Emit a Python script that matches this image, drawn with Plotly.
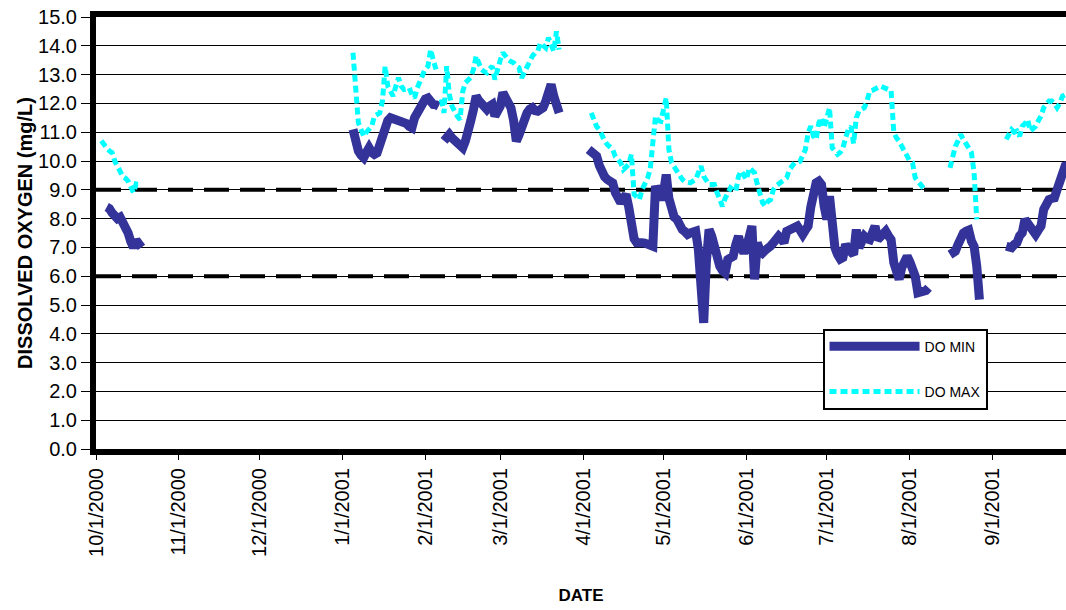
import pandas as pd
import plotly.graph_objects as go

# ---------------- data (daily dissolved-oxygen readings, mg/L) ----------------
# DO MIN segments: (first date, daily values)
MIN_OCT_2000_START = "2000-10-05"
MIN_OCT_2000 = [8.4, 8.35, 8.2, 8.1, 8.0, 8.05, 7.9, 7.7, 7.5, 7.2, 7.0, 7.25, 7.05, 7.0]

MIN_JAN_2001_START = "2001-01-05"
MIN_JAN_2001 = [11.1, 10.6, 10.35, 10.2, 10.11, 10.3, 10.46, 10.3, 10.23, 10.28,
                10.6, 11.0, 11.2, 11.4, 11.5, 11.48, 11.45, 11.44, 11.4, 11.38,
                11.3, 11.2, 11.15, 11.5, 11.7, 11.9, 12.0,
                12.15, 12.19, 12.0, 11.96, 11.95, 11.9]

MIN_FEB_2001_START = "2001-02-08"
MIN_FEB_2001 = [10.7, 10.8, 10.92, 10.8, 10.7, 10.6, 10.5, 10.46, 10.7, 10.98,
                11.4, 11.79, 12.25, 12.1, 12.02, 11.9, 11.79, 11.9, 11.96, 11.56, 11.75,
                11.9, 12.37, 12.2, 12.02, 11.85, 11.4, 10.69, 10.9, 11.21, 11.5,
                11.67, 11.8, 11.85, 11.75, 11.73, 11.79, 11.85, 12.08, 12.4, 12.66,
                12.25, 12.02, 11.67]

MIN_APR_2001_START = "2001-04-03"
MIN_APR_2001 = [10.4, 10.35, 10.25, 10.17, 9.85, 9.59, 9.45, 9.36, 9.3, 9.24,
                8.9, 8.7, 8.55, 8.7, 8.84, 8.4, 7.6, 7.3, 7.16, 7.2,
                7.16, 7.15, 7.1, 7.05, 7.04, 9.13, 8.8, 8.66,
                # May
                8.9, 9.53, 8.7, 8.2, 8.05, 7.97, 7.75, 7.62, 7.55, 7.45,
                7.5, 7.55, 7.56, 6.93, 5.89, 4.38, 6.5, 7.62, 7.39, 6.93,
                6.6, 6.35, 6.2, 6.12, 6.58, 6.6, 6.69, 7.1, 7.39, 7.0, 6.81,
                # June
                7.0, 7.5, 7.74, 5.89, 7.16, 6.9, 6.81, 6.9, 6.95, 7.05,
                7.16, 7.3, 7.39, 7.3, 7.16, 7.56, 7.6, 7.7, 7.74, 7.74,
                7.6, 7.45, 7.6, 7.74, 8.4, 8.9, 9.24, 9.3, 9.18, 8.43,
                # July
                7.97, 8.78, 7.6, 7.0, 6.75, 6.6, 6.65, 7.1, 6.95, 6.8,
                6.75, 7.62, 6.99, 7.2, 7.39, 7.3, 7.27, 7.5, 7.74, 7.27,
                7.4, 7.5, 7.56, 7.4, 7.27, 6.47, 6.1, 5.89, 6.3, 6.47, 6.69,
                # August
                6.5, 6.23, 6.0, 5.42, 5.45, 5.42, 5.5, 5.6]

MIN_AUG_2001_START = "2001-08-16"
MIN_AUG_2001 = [6.75, 6.8, 6.87, 7.1, 7.39, 7.5, 7.56, 7.6, 7.22, 7.04, 6.35, 5.19]

MIN_SEP_2001_START = "2001-09-06"
MIN_SEP_2001 = [7.04, 7.0, 6.99, 7.1, 7.16, 7.4, 7.51, 7.97, 7.8, 7.68,
                7.5, 7.45, 7.6, 7.74, 8.32, 8.55, 8.66, 8.7, 8.72, 9.01,
                9.3, 9.7, 9.82, 9.85, 9.9]

# DO MAX segments
MAX_OCT_2000_START = "2000-10-03"
MAX_OCT_2000 = [10.7, 10.55, 10.45, 10.35, 10.29, 10.0, 9.8, 9.6, 9.46, 9.4,
                9.3, 9.1, 8.9, 9.2, 9.18]

MAX_JAN_2001_START = "2001-01-05"
MAX_JAN_2001 = [13.76, 12.2, 11.33, 11.1, 10.86, 11.0, 11.1, 11.21, 11.56, 11.6,
                11.67, 12.08, 13.29, 12.6, 12.4, 12.25, 12.6, 12.89, 12.6, 12.48,
                12.5, 12.54, 12.3, 12.19, 12.54, 12.8, 13.0,
                13.2, 13.29, 13.87, 13.5, 13.18]

MAX_FEB_2001_START = "2001-02-07"
MAX_FEB_2001 = [12.14, 11.67, 13.29, 12.3, 11.9, 11.67, 11.55, 11.44, 12.42, 12.72,
                12.8, 12.9, 13.18, 13.64, 13.4, 13.18, 13.1, 13.06, 13.2, 13.29,
                12.83, 13.24,
                13.5, 13.76, 13.6, 13.52, 13.45, 13.41, 13.3, 13.24, 12.89, 13.1,
                13.29, 13.5, 13.64, 13.75, 13.81, 14.1, 14.0, 13.93, 14.28, 14.0,
                13.81, 14.5, 13.87]

MAX_APR_2001_START = "2001-04-04"
MAX_APR_2001 = [11.67, 11.4, 11.2, 11.09, 10.86, 10.7, 10.57, 10.45, 10.4, 10.15,
                10.05, 9.94, 9.7, 9.8, 9.88, 10.23, 8.84, 8.75, 8.66, 9.01,
                9.2, 9.4, 9.7, 10.63, 11.56, 11.4, 11.38,
                # May
                11.79, 12.19, 10.4, 9.94, 9.8, 9.65, 9.45, 9.36, 9.28, 9.24,
                9.24, 9.3, 9.36, 9.59, 9.82, 9.47, 9.3, 9.18, 9.18, 9.18,
                8.9, 8.6, 8.43, 8.7, 8.9, 9.07, 9.0, 8.95, 9.47, 9.65, 9.5,
                # June
                9.36, 9.76, 9.7, 9.59, 9.2, 8.9, 8.55, 8.43, 8.6, 8.66,
                9.0, 9.13, 9.2, 9.24, 9.35, 9.42, 9.7, 9.85, 9.94, 9.95,
                9.99, 10.2, 10.4, 10.98, 11.21, 10.86, 10.75, 11.33, 11.5, 11.15,
                # July
                11.5, 11.85, 10.46, 10.35, 10.23, 10.3, 10.46, 10.8, 11.09, 11.2,
                10.6, 11.5, 11.73, 11.8, 11.85, 12.08, 12.42, 12.45, 12.48, 12.55,
                12.6, 12.55, 12.54, 12.48, 12.45, 11.0, 10.8, 10.69, 10.51, 10.3, 10.17,
                # August
                10.0, 9.94, 9.42, 9.3, 9.18, 9.05, 8.95]

MAX_AUG_2001_START = "2001-08-16"
MAX_AUG_2001 = [9.76, 10.17, 10.51, 10.7, 10.92, 10.75, 10.63, 10.45, 10.3, 9.59, 7.97]

MAX_SEP_2001_START = "2001-09-06"
MAX_SEP_2001 = [10.75, 10.9, 11.09, 11.0, 11.04, 10.86, 11.21, 11.3, 11.44, 11.04,
                11.1, 11.21, 11.4, 11.56, 11.85, 12.0, 12.08, 12.08, 12.0, 11.85,
                12.0, 12.25, 12.3, 12.3, 12.4]

# Criteria reference levels (mg/L)
CRITERIA_LEVELS = [9.0, 6.0]

SERIES_NAMES = ["DO MIN", "DO MAX"]
TICK_DATES = ["2000-10-01", "2000-11-01", "2000-12-01", "2001-01-01", "2001-02-01",
              "2001-03-01", "2001-04-01", "2001-05-01", "2001-06-01", "2001-07-01",
              "2001-08-01", "2001-09-01"]
TICK_LABELS = ["10/1/2000", "11/1/2000", "12/1/2000", "1/1/2001", "2/1/2001",
               "3/1/2001", "4/1/2001", "5/1/2001", "6/1/2001", "7/1/2001",
               "8/1/2001", "9/1/2001"]
X_START = "2000-10-01"
X_END = "2001-09-28 08:00"


def build(segments):
    xs, ys = [], []
    for start, vals in segments:
        dates = pd.date_range(start, periods=len(vals), freq="D")
        xs += list(dates)
        ys += list(vals)
        xs.append(dates[-1] + pd.Timedelta(hours=12))
        ys.append(None)
    return xs, ys


min_x, min_y = build([(MIN_OCT_2000_START, MIN_OCT_2000), (MIN_JAN_2001_START, MIN_JAN_2001),
                      (MIN_FEB_2001_START, MIN_FEB_2001), (MIN_APR_2001_START, MIN_APR_2001),
                      (MIN_AUG_2001_START, MIN_AUG_2001), (MIN_SEP_2001_START, MIN_SEP_2001)])
max_x, max_y = build([(MAX_OCT_2000_START, MAX_OCT_2000), (MAX_JAN_2001_START, MAX_JAN_2001),
                      (MAX_FEB_2001_START, MAX_FEB_2001), (MAX_APR_2001_START, MAX_APR_2001),
                      (MAX_AUG_2001_START, MAX_AUG_2001), (MAX_SEP_2001_START, MAX_SEP_2001)])

FONT = "Liberation Sans, Arial, sans-serif"

fig = go.Figure()

# criteria lines (drawn first, beneath the data)
for level in CRITERIA_LEVELS:
    fig.add_trace(go.Scatter(x=[X_START, X_END], y=[level, level], mode="lines",
                             showlegend=False, hoverinfo="skip",
                             line=dict(color="black", width=4, dash="25px,11px")))

fig.add_trace(go.Scatter(x=min_x, y=min_y, mode="lines", name=SERIES_NAMES[0],
                         legendgroup="min",
                         line=dict(color="#333399", width=9), connectgaps=False))
fig.add_trace(go.Scatter(x=max_x, y=max_y, mode="lines", name=SERIES_NAMES[1],
                         legendgroup="max",
                         line=dict(color="#00FFFF", width=5, dash="7px,4px"),
                         connectgaps=False))

fig.update_layout(
    width=1066, height=610,
    margin=dict(l=96, r=0, t=17, b=161),
    paper_bgcolor="white", plot_bgcolor="white",
    font=dict(family=FONT, color="black"),
    showlegend=True,
    legend=dict(x=0.749, y=0.2785, xanchor="left", yanchor="top",
                bgcolor="white", bordercolor="black", borderwidth=2,
                font=dict(size=14, family=FONT, color="black"),
                tracegroupgap=24, itemwidth=90),
)

fig.update_xaxes(
    type="date", range=[X_START, X_END], automargin=False,
    tickmode="array", tickvals=TICK_DATES, ticktext=TICK_LABELS,
    tickangle=-90, tickfont=dict(size=20, family=FONT, color="black"),
    ticks="outside", ticklen=5, tickwidth=1, tickcolor="black",
    showgrid=False, zeroline=False,
    showline=True, linecolor="black", linewidth=6, mirror=True,
    title=dict(text="<b>DATE</b>", font=dict(size=17, family=FONT, color="black"),
               standoff=35),
)
fig.update_yaxes(
    range=[0, 15], dtick=1, tickformat=".1f", automargin=False,
    tickfont=dict(size=20, family=FONT, color="black"),
    ticks="outside", ticklen=9, tickwidth=1, tickcolor="black",
    showgrid=True, gridcolor="black", gridwidth=1, zeroline=False,
    showline=True, linecolor="black", linewidth=6, mirror=False,
    title=dict(text="<b>DISSOLVED OXYGEN (mg/L)</b>",
               font=dict(size=20, family=FONT, color="black"), standoff=2),
)

# remove the default page margin so the 1066x610 figure fills the window exactly
fig.write_html("out.html",
               config={"displayModeBar": False},
               post_script="document.body.style.margin='0';"
                           "document.body.style.overflow='hidden';")
